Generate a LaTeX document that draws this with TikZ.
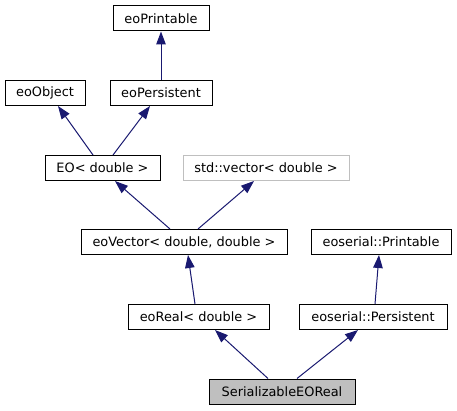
\documentclass[tikz,border=0pt]{standalone}
\usepackage{fontspec}
\setmainfont{DejaVu Sans}
\usetikzlibrary{arrows.meta}
\definecolor{edgeblue}{RGB}{25,25,112}
\definecolor{nodegrey}{RGB}{191,191,191}
\tikzset{
  cls/.style={draw=black, line width=1pt, fill=white, minimum height=25pt, inner sep=0pt, font=\fontsize{12.9}{14}\selectfont, text=black},
  extcls/.style={cls, draw=nodegrey},
  curcls/.style={cls, fill=nodegrey},
  inh/.style={draw=edgeblue, line width=1pt, -{Triangle[length=13pt,width=9.5pt]}, color=edgeblue},
}
\begin{document}
\begin{tikzpicture}[x=1pt,y=-1pt]
\useasboundingbox (0,0) rectangle (457,411);
\node[cls, minimum width=96pt] (printable) at (161,18.5) {eoPrintable};
\node[cls, minimum width=80pt] (object) at (45,93) {eoObject};
\node[cls, minimum width=102pt] (persistent) at (161,93) {eoPersistent};
\node[cls, minimum width=115pt] (eo) at (102.5,168) {EO< double >};
\node[extcls, minimum width=166pt] (stdvec) at (266,168) {std::vector< double >};
\node[cls, minimum width=206pt] (eovec) at (184,242) {eoVector< double, double >};
\node[cls, minimum width=140pt] (serprint) at (381,242) {eoserial::Printable};
\node[cls, minimum width=141pt] (eoreal) at (198.5,317) {eoReal< double >};
\node[cls, minimum width=148pt] (serpers) at (373,317) {eoserial::Persistent};
\node[curcls, minimum width=146pt] (serial) at (282,391.5) {SerializableEOReal};

\draw[inh] (persistent.north) -- (printable.south);
\draw[inh] ([xshift=-9.5pt]eo.north) -- ([xshift=13pt]object.south);
\draw[inh] ([xshift=10.5pt]eo.north) -- ([xshift=-11pt]persistent.south);
\draw[inh] ([xshift=-14pt]eovec.north) -- ([xshift=12.5pt]eo.south);
\draw[inh] ([xshift=14pt]eovec.north) -- ([xshift=-12pt]stdvec.south);
\draw[inh] ([xshift=-3.5pt]eoreal.north) -- ([xshift=4pt]eovec.south);
\draw[inh] ([xshift=2pt]serpers.north) -- ([xshift=-2pt]serprint.south);
\draw[inh] ([xshift=-14pt]serial.north) -- ([xshift=16.5pt]eoreal.south);
\draw[inh] ([xshift=15pt]serial.north) -- ([xshift=-15pt]serpers.south);
\end{tikzpicture}
\end{document}
